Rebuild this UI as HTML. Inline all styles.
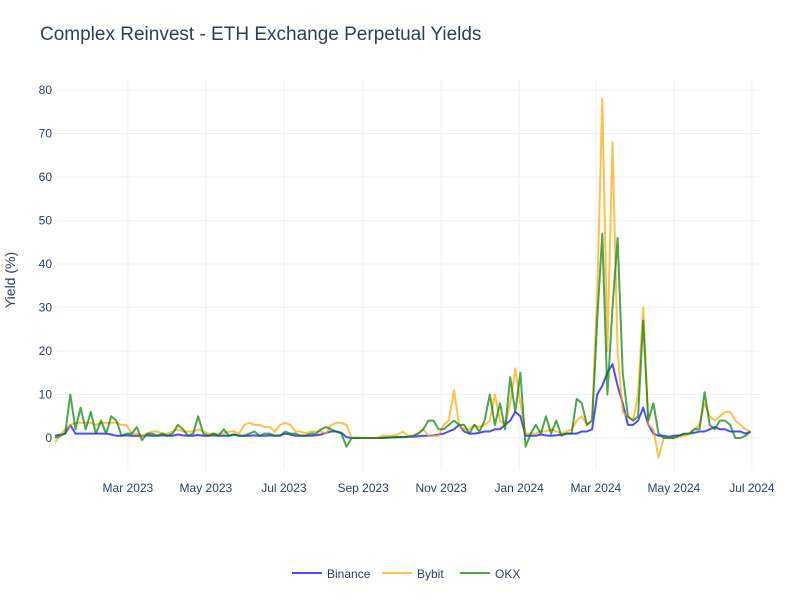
<!DOCTYPE html>
<html><head><meta charset="utf-8"><style>
body{margin:0;background:#fff;font-family:"Liberation Sans",Arial,sans-serif;}
svg text{font-family:"Liberation Sans",Arial,sans-serif;fill:#2a3f5f;}
</style></head><body>
<svg id="c" width="800" height="600">
<text x="40" y="40" font-size="19">Complex Reinvest - ETH Exchange Perpetual Yields</text>
<text transform="translate(15,280) rotate(-90)" text-anchor="middle" font-size="14">Yield (%)</text>
<g id="grid"></g><g id="series"></g><g id="axes"></g><g id="legend"></g>
</svg>
<script>
const startDate = "2023-01-03";
const stepDays = 4;
const binance = [0.5,0.8,1,3,1,1,1,1,1,1,
1,0.8,0.5,0.5,0.6,0.5,0.5,0.5,0.6,0.5,
0.5,0.6,0.5,0.5,0.8,0.6,0.5,0.5,0.7,0.5,
0.5,0.6,0.5,0.5,0.5,0.8,0.5,0.5,0.5,0.6,
0.5,0.5,0.6,0.5,0.6,1,0.8,0.5,0.5,0.5,
0.5,0.6,0.8,1.2,1.5,1.5,1.2,0.2,0,0,
0,0,0,0,0.1,0.1,0.2,0.2,0.2,0.3,
0.3,0.4,0.5,0.5,0.6,0.8,1,1.5,2,3,
1.5,1,1,1.2,1.5,1.5,2,2,3,4,
6,5,0.5,0.5,0.5,0.8,0.6,0.5,0.6,0.8,
1,1,1,1.5,1.5,2,10,12,15,17,
12,8,3,3,4,7,3,1,0.5,0.5,
0.3,0.5,0.6,0.8,1,1.2,1.5,1.5,2,2.5,
2,2,1.5,1.5,1.5,1,1.5];
const bybit = [-1,0.5,2,3,3.5,3.5,3.5,3.5,3,3.5,
3.5,3.5,3.5,3,3,1,1,0.5,1,1.5,
1.5,1,1,1.5,2,1.5,1.5,1.5,2,1.5,
1,1,1,1,1.5,1.5,1,3,3.5,3,
3,2.5,2.5,1.5,3,3.5,3,1.5,1.5,1,
1.5,1.5,1.5,1,3,3.5,3.5,3,0,0.2,
0,0,0,0,0.5,0.5,0.5,0.8,1.5,0.5,
0.5,1,2,0.5,0.5,0.5,3,4,11,3,
2,2,3,2.5,3,4,10,4,3,8,
16,8,1,1,1,1.5,1.5,2,1.5,1,
1.5,2,4,5,3,4,33,78,20,68,
20,6,5,4,10,30,3,2,-4.5,0,
0,0,0.3,0.5,1,2,3,8,5,4,
5,6,6,4,3,2,1.5];
const okx = [0,0.5,1,10,2,7,2,6,1,4,
1,5,4,0.5,1,1,2.5,-0.5,1,1,
0.5,1,0.5,1,3,2,0.5,1,5,1,
0.5,1,0.5,2,0.5,0.8,0.5,0.5,1,1.5,
0.5,1,1,0.5,0.5,1.5,1,1,0.5,0.5,
1,1,2,2.5,2,1.5,1,-2,0,0,
0,0,0,0,0,0.1,0.1,0.2,0.2,0.3,
0.5,1,2,4,4,2,2,3,4,3,
3,1,3,1.5,4,10,3,8,2,14,
6,15,-2,1,3,1,5,1,4,0.5,
1,1,9,8,3,4,27,47,10,30,
46,15,5,4,5,27,4,8,1,0,
0,0,0.5,1,1,2,2,10.5,3,2,
4,4,3,0,0,0.5,1.5];
const yTicks = [0,10,20,30,40,50,60,70,80];
const xTickDates = ["2023-03-01","2023-05-01","2023-07-01","2023-09-01","2023-11-01","2024-01-01","2024-03-01","2024-05-01","2024-07-01"];
const xTickLabels = ["Mar 2023","May 2023","Jul 2023","Sep 2023","Nov 2023","Jan 2024","Mar 2024","May 2024","Jul 2024"];
const seriesNames = ["Binance","Bybit","OKX"];

const NS="http://www.w3.org/2000/svg";
const L=55,R=760,T=80,B=470;
const y0=438, pxPerUnit=4.35;
const xStart=new Date("2023-01-03").getTime(), pxPerDay=1.2787;
const yS=v=>y0-v*pxPerUnit;
const xS=ms=>L+(ms-xStart)/86400000*pxPerDay;
const dayMs=d=>new Date(startDate).getTime()+d*86400000;
function mk(tag,attrs,parent){const e=document.createElementNS(NS,tag);for(const k in attrs)e.setAttribute(k,attrs[k]);parent.appendChild(e);return e;}
const grid=document.getElementById('grid'),axes=document.getElementById('axes'),ser=document.getElementById('series'),leg=document.getElementById('legend');
yTicks.forEach(v=>{
  const g=mk('line',{x1:L,x2:R,y1:yS(v),y2:yS(v),stroke:'#ebf0f8','stroke-width':1},grid);
  
  
  const t=mk('text',{x:L-3,y:yS(v)+4,'text-anchor':'end','font-size':12},axes);
  t.textContent=v;
  
  
});
xTickDates.forEach((d,i)=>{
  const x=xS(new Date(d).getTime());
  const g=mk('line',{x1:x,x2:x,y1:T,y2:B,stroke:'#ebf0f8','stroke-width':1},grid);
  
  
  const t=mk('text',{x:x,y:492,'text-anchor':'middle','font-size':12},axes);
  t.textContent=xTickLabels[i];
  
  
});
const colors=["rgba(0,0,255,0.7)","rgba(255,165,0,0.7)","rgba(0,128,0,0.7)"];
[binance,bybit,okx].forEach((arr,si)=>{
  const pts=arr.map((v,i)=>xS(dayMs(i*stepDays)).toFixed(1)+","+yS(v).toFixed(1)).join(" ");
  const p=mk('polyline',{points:pts,fill:'none',stroke:colors[si],'stroke-width':2,'stroke-linejoin':'round'},ser);
  
  
});
const legX=[292,382,460];
seriesNames.forEach((n,i)=>{
  const g=mk('g',{},leg);
  
  
  mk('line',{x1:legX[i],x2:legX[i]+30,y1:573,y2:573,stroke:colors[i],'stroke-width':2},g);
  const t=mk('text',{x:legX[i]+35,y:578,'font-size':12},g);
  t.textContent=n;
});
</script>
</body></html>
